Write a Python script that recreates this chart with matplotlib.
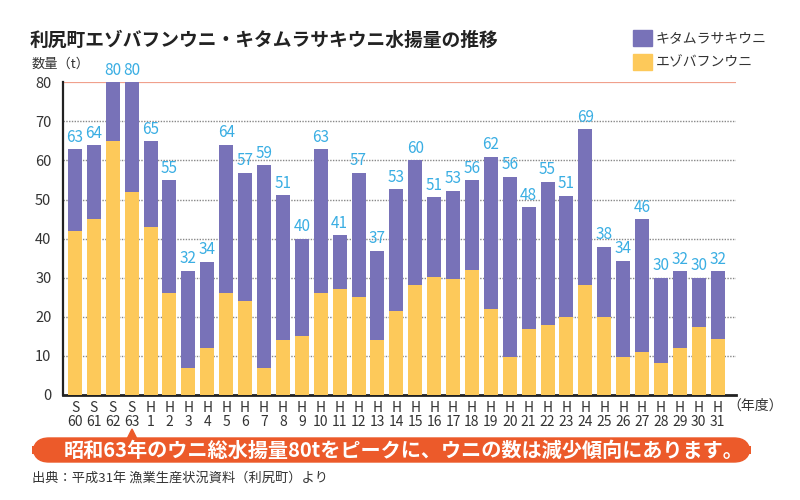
import numpy as np
import matplotlib
matplotlib.use("Agg")
import matplotlib.pyplot as plt
from matplotlib.patches import FancyBboxPatch, Polygon, Rectangle

plt.rcParams['font.family'] = ['Noto Sans CJK JP', 'DejaVu Sans']

# data
eras = ["S"] * 4 + ["H"] * 31
years = ["60", "61", "62", "63"] + [str(i) for i in range(1, 32)]
ezo = [42, 45, 65, 52, 43, 26, 7, 12, 26, 24, 7, 14, 15, 26, 27, 25, 14, 21.6,
       28.1, 30.1, 29.6, 32.1, 22, 9.7, 17, 18, 20, 28.1, 20, 9.7, 11.1, 8.1,
       11.9, 17.4, 14.2]
totals = [62.9, 63.9, 80, 80, 64.9, 54.9, 31.8, 34.1, 64, 56.9, 58.8, 51.1, 40,
          62.9, 40.9, 56.9, 36.9, 52.6, 60, 50.6, 52.3, 55, 61, 55.9, 48, 54.6,
          51, 68, 37.9, 34.3, 45, 30, 31.6, 30, 31.6]
labels = [63, 64, 80, 80, 65, 55, 32, 34, 64, 57, 59, 51, 40, 63, 41, 57, 37, 53,
          60, 51, 53, 56, 62, 56, 48, 55, 51, 69, 38, 34, 46, 30, 32, 30, 32]
kita = [t - e for t, e in zip(totals, ezo)]

PURPLE = "#7872b8"
YELLOW = "#fdc95a"
BLUE = "#3aaee3"
DARK = "#333333"

W, H = 800, 500
fig = plt.figure(figsize=(8, 5), dpi=100)

def fx(px):
    return px / W

def fy(py):
    return 1 - py / H

ax = fig.add_axes([fx(62.5), fy(395), fx(736) - fx(62.5), fy(82.3) - fy(395)])
x = np.arange(len(years))
ax.bar(x, ezo, width=0.74, color=YELLOW, zorder=3)
ax.bar(x, kita, bottom=ezo, width=0.74, color=PURPLE, zorder=3)

for xi, t, lab in zip(x, totals, labels):
    ax.text(xi, t + 0.9, str(lab), ha="center", va="bottom", color=BLUE,
            fontsize=11, clip_on=False)

ax.set_xlim(-0.66, 34.97)
ax.set_ylim(0, 80)
ax.set_yticks(range(0, 81, 10))
ax.set_yticklabels([str(v) for v in range(0, 81, 10)], fontsize=10.5, color=DARK)
ax.set_xticks(x)
ax.set_xticklabels([e + "\n" + y for e, y in zip(eras, years)], fontsize=10,
                   color=DARK, linespacing=1.05)
ax.tick_params(length=0, pad=4)
ax.tick_params(axis="y", pad=8)
for yv in range(10, 80, 10):
    ax.axhline(yv, color="#888888", lw=1, ls=(0, (1, 1)), zorder=1)
ax.axhline(80, color="#f0a08c", lw=1.6, zorder=2)
for s in ["top", "right"]:
    ax.spines[s].set_visible(False)
ax.spines["left"].set_linewidth(1.6)
ax.spines["bottom"].set_linewidth(2)
ax.spines["left"].set_color("#222222")
ax.spines["bottom"].set_color("#222222")

fig.text(fx(30), fy(40), "利尻町エゾバフンウニ・キタムラサキウニ水揚量の推移",
         fontsize=13.5, fontweight="bold", color="#222222", va="center")
fig.text(fx(32), fy(64), "数量（t）", fontsize=9.5, color=DARK, va="center")
fig.text(fx(727), fy(406), "（年度）", fontsize=10, color=DARK, va="center")

# legend
fig.patches.append(Rectangle((fx(633), fy(46)), fx(19), fy(30) - fy(46),
                             transform=fig.transFigure, color=PURPLE))
fig.patches.append(Rectangle((fx(633), fy(70)), fx(19), fy(54) - fy(70),
                             transform=fig.transFigure, color=YELLOW))
fig.text(fx(656), fy(38), "キタムラサキウニ", fontsize=10, color=DARK, va="center")
fig.text(fx(656), fy(62), "エゾバフンウニ", fontsize=10, color=DARK, va="center")

# banner
ORANGE = "#ec5a2a"
fig.patches.append(FancyBboxPatch((fx(33), fy(462)), fx(750) - fx(33), fy(438) - fy(462),
                                  boxstyle="round,pad=0,rounding_size=0.02",
                                  transform=fig.transFigure, color=ORANGE,
                                  mutation_aspect=1.6))
fig.patches.append(Polygon([(fx(127), fy(439)), (fx(137), fy(439)), (fx(132), fy(429))],
                           closed=True, transform=fig.transFigure, color=ORANGE))
fig.text(fx(404), fy(450), "昭和63年のウニ総水揚量80tをピークに、ウニの数は減少傾向にあります。",
         fontsize=14.5, fontweight="bold", color="white", ha="center", va="center")

fig.text(fx(32), fy(478), "出典：平成31年 漁業生産状況資料（利尻町）より", fontsize=9.5,
         color=DARK, va="center")

fig.savefig("out.png", dpi=100)
